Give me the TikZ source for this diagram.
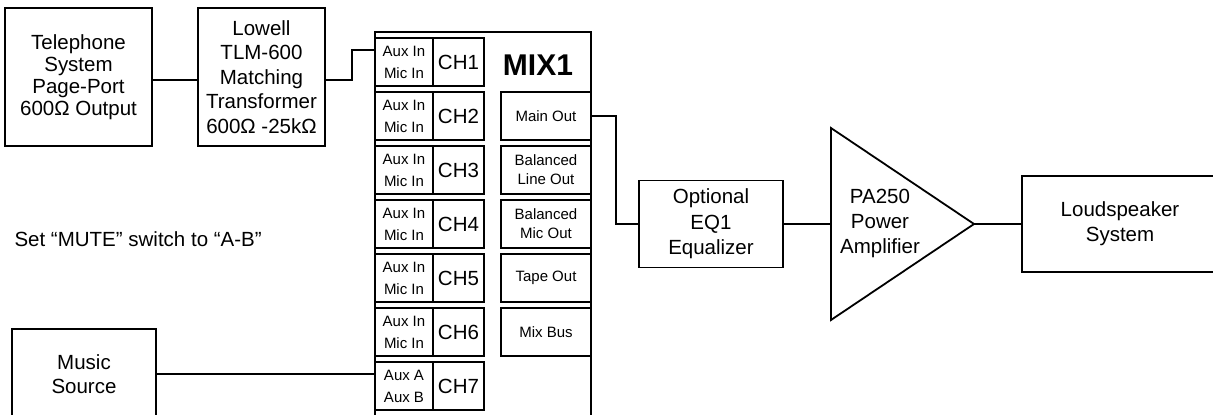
\documentclass[tikz,border=0pt]{standalone}
\usepackage{fontspec}
\setmainfont{Liberation Sans}
\usepackage{tikz}
\usetikzlibrary{shapes.geometric}
\tikzstyle{block} = [
    rectangle,
    draw=black,
    line width=1.8pt,
    inner sep=0pt,
    align=center,
    font=\fontsize{20.5}{24}\selectfont
]
\tikzstyle{port} = [
    rectangle,
    draw=black,
    line width=1.8pt,
    inner sep=0pt,
    align=center,
    minimum height=48pt,
    font=\fontsize{15}{22}\selectfont
]
\tikzstyle{auxport} = [port, minimum width=58pt]
\tikzstyle{chan} = [port, minimum width=51pt, font=\fontsize{20.5}{24}\selectfont]
\tikzstyle{outport} = [port, minimum width=90pt, font=\fontsize{15}{19}\selectfont]
\tikzstyle{wire} = [line width=1.8pt]

\begin{document}
\begin{tikzpicture}[x=1pt, y=-1pt, node distance=54pt]

\useasboundingbox (0,0) rectangle (1213,415);
\clip (0,0) rectangle (1213,415);

\node (tel) [block, minimum width=147pt, minimum height=138pt,
    font=\fontsize{20.5}{22}\selectfont] at (78.5,77)
{Telephone\\System\\Page-Port\\600Ω Output};

\node (lowell) [block, minimum width=127pt, minimum height=138pt,
    font=\fontsize{20.5}{24.5}\selectfont] at (261.5,77)
{Lowell\\TLM-600\\Matching\\Transformer\\600Ω -25kΩ};

\node (music) [block, minimum width=144pt, minimum height=90pt] at (84,374)
{Music\\Source};

\node (mutenote) [anchor=west, font=\fontsize{20.5}{24}\selectfont] at (11,239)
{Set “MUTE” switch to “A-B”};

\node (mix1) [rectangle, draw=black, line width=1.8pt,
    minimum width=216pt, minimum height=386pt] at (483,225) {};

\node (mixlabel) [font=\fontsize{30}{34}\bfseries] at (538,65) {MIX1};

\node (aux1) [auxport] at (404,62) {Aux In\\Mic In};
\node (aux2) [auxport, below of=aux1] {Aux In\\Mic In};
\node (aux3) [auxport, below of=aux2] {Aux In\\Mic In};
\node (aux4) [auxport, below of=aux3] {Aux In\\Mic In};
\node (aux5) [auxport, below of=aux4] {Aux In\\Mic In};
\node (aux6) [auxport, below of=aux5] {Aux In\\Mic In};
\node (aux7) [auxport, below of=aux6] {Aux A\\Aux B};

\node (ch1) [chan, right of=aux1, node distance=54.5pt] {CH1};
\node (ch2) [chan, right of=aux2, node distance=54.5pt] {CH2};
\node (ch3) [chan, right of=aux3, node distance=54.5pt] {CH3};
\node (ch4) [chan, right of=aux4, node distance=54.5pt] {CH4};
\node (ch5) [chan, right of=aux5, node distance=54.5pt] {CH5};
\node (ch6) [chan, right of=aux6, node distance=54.5pt] {CH6};
\node (ch7) [chan, right of=aux7, node distance=54.5pt] {CH7};

\node (mainout) [outport] at (546,116) {Main Out};
\node (lineout) [outport, below of=mainout] {Balanced\\Line Out};
\node (micout) [outport, below of=lineout] {Balanced\\Mic Out};
\node (tapeout) [outport, below of=micout] {Tape Out};
\node (mixbus) [outport, below of=tapeout] {Mix Bus};

\node (eq) [block, minimum width=144pt, minimum height=87pt,
    font=\fontsize{20.5}{25.5}\selectfont] at (711,224)
{Optional\\EQ1\\Equalizer};

\coordinate (ampin) at (831,224);
\coordinate (ampout) at (974,224);
\draw [wire, line join=miter] (831,128) -- (ampout) -- (831,320) -- cycle;
\node (amp) [align=center, font=\fontsize{20.5}{25}\selectfont] at (880,223)
{PA250\\Power\\Amplifier};

\node (spk) [block, minimum width=196pt, minimum height=96pt,
    font=\fontsize{20.5}{25}\selectfont] at (1120,224)
{Loudspeaker\\System};

\draw [wire] ([yshift=-3pt]tel.east) -- ([yshift=-3pt]lowell.west);
\draw [wire] ([yshift=-3pt]lowell.east) -- ++(26,0) |- ([yshift=12pt]aux1.west);
\draw [wire] (music.east) -- (music.east -| aux7.west);
\draw [wire] (mainout.east) -- ++(24,0) |- (eq.west);
\draw [wire] (eq.east) -- (ampin);
\draw [wire] (ampout) -- (spk.west);

\end{tikzpicture}
\end{document}
